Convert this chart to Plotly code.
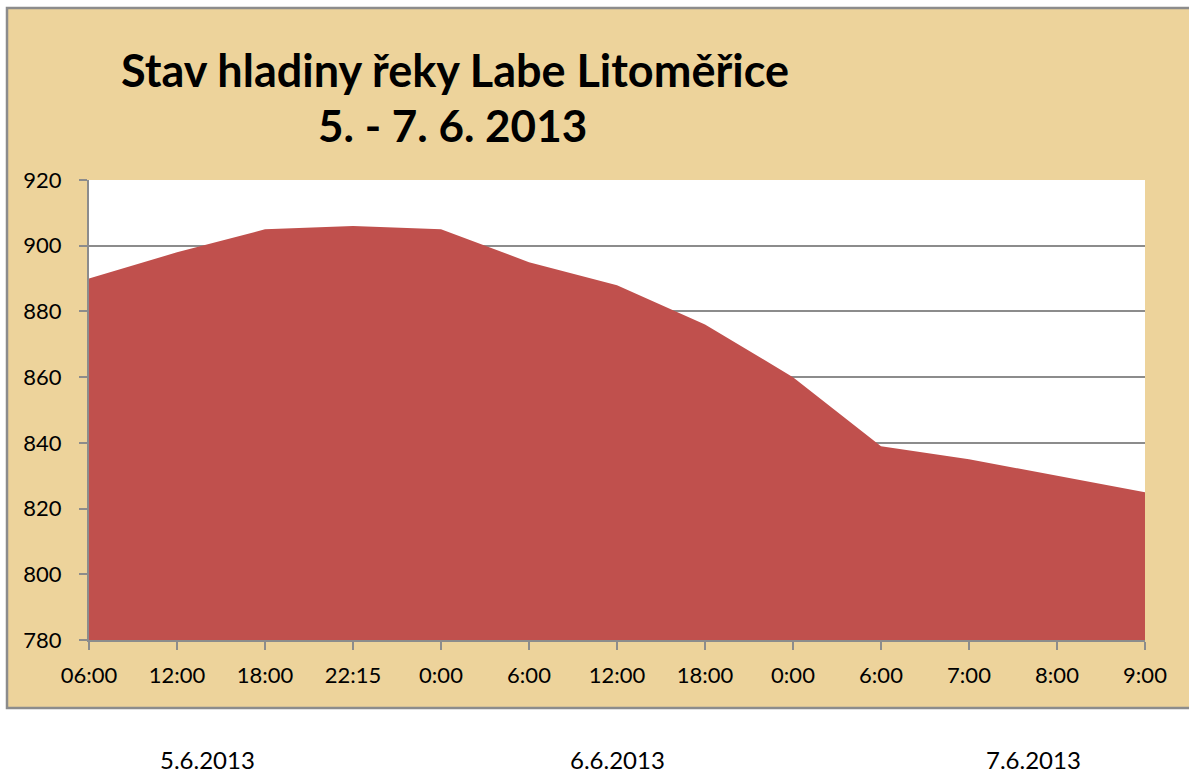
import plotly.graph_objects as go

# ---- data ----
time_labels = ["06:00", "12:00", "18:00", "22:15", "0:00", "6:00", "12:00",
               "18:00", "0:00", "6:00", "7:00", "8:00", "9:00"]
water_level = [890, 898, 905, 906, 905, 895, 888, 876, 860, 839, 835, 830, 825]
date_labels = ["5.6.2013", "6.6.2013", "7.6.2013"]
title_lines = ["Stav hladiny řeky Labe Litoměřice", "5. - 7. 6. 2013"]
y_ticks = [780, 800, 820, 840, 860, 880, 900, 920]

x_pos = list(range(len(time_labels)))

W, H = 1189, 776
L, R, T, B = 89, 44, 180, 136
pw, ph = W - L - R, H - T - B


def px_x(px):
    return (px - L) / pw


def px_y(py):
    return (H - B - py) / ph


FONT = "Lato"
PAPYRUS = "#EDD39B"
GRAY = "#8C8C8C"

fig = go.Figure()
fig.add_trace(go.Scatter(
    x=x_pos, y=water_level, mode="lines", fill="tozeroy",
    line=dict(color="#C0504D", width=0), fillcolor="#C0504D",
    hoverinfo="x+y", showlegend=False,
))

shapes = [
    dict(type="rect", xref="paper", yref="paper", layer="below",
         x0=px_x(7), x1=px_x(1200), y0=px_y(708), y1=px_y(8),
         fillcolor=PAPYRUS, line=dict(color=GRAY, width=2.5)),
    dict(type="rect", xref="paper", yref="paper", layer="below",
         x0=0, x1=1, y0=0, y1=1, fillcolor="white", line=dict(width=0)),
]

annotations = [
    dict(text=f"<b>{title_lines[0]}</b>", xref="paper", yref="paper",
         x=px_x(455), y=px_y(70), xanchor="center", yanchor="middle",
         showarrow=False, font=dict(family=FONT, size=45, color="black")),
    dict(text=f"<b>{title_lines[1]}</b>", xref="paper", yref="paper",
         x=px_x(452), y=px_y(125), xanchor="center", yanchor="middle",
         showarrow=False, font=dict(family=FONT, size=44, color="black")),
]
for lbl, cx in zip(date_labels, [207, 617, 1033]):
    annotations.append(dict(text=lbl, xref="paper", yref="paper",
                            x=px_x(cx), y=px_y(759), xanchor="center",
                            yanchor="middle", showarrow=False,
                            font=dict(family=FONT, size=24, color="black")))

fig.update_layout(
    width=W, height=H,
    margin=dict(l=L, r=R, t=T, b=B),
    paper_bgcolor="white", plot_bgcolor="white",
    shapes=shapes, annotations=annotations,
    font=dict(family=FONT, size=22, color="black"),
    xaxis=dict(range=[0, len(time_labels) - 1], tickmode="array",
               tickvals=x_pos, ticktext=time_labels, showgrid=False,
               zeroline=False, showline=True, linecolor=GRAY, linewidth=2,
               ticks="outside", ticklen=8, tickcolor=GRAY, tickwidth=2,
               ticklabelstandoff=7, tickfont=dict(family=FONT, size=22)),
    yaxis=dict(range=[780, 920], tickmode="array", tickvals=y_ticks,
               showgrid=True, gridcolor=GRAY, gridwidth=1.5, zeroline=False,
               showline=True, linecolor=GRAY, linewidth=2,
               ticks="outside", ticklen=8, tickcolor=GRAY, tickwidth=2,
               ticklabelstandoff=13, tickfont=dict(family=FONT, size=22)),
)

fig.write_html("out.html",
               config={"displayModeBar": False},
               post_script="document.body.style.margin='0';"
                           "document.body.style.overflow='hidden';")
